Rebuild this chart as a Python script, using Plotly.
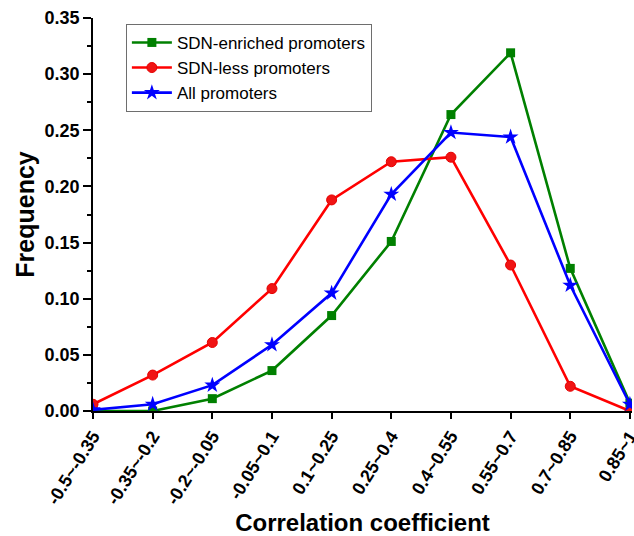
import plotly.graph_objects as go

categories = ["-0.5~-0.35", "-0.35~-0.2", "-0.2~-0.05", "-0.05~0.1", "0.1~0.25",
              "0.25~0.4", "0.4~0.55", "0.55~0.7", "0.7~0.85", "0.85~1"]
sdn_enriched = [0.000, 0.000, 0.011, 0.036, 0.085, 0.151, 0.264, 0.319, 0.127, 0.007]
sdn_less = [0.006, 0.032, 0.061, 0.109, 0.188, 0.222, 0.226, 0.130, 0.022, 0.000]
all_promoters = [0.001, 0.006, 0.023, 0.059, 0.105, 0.193, 0.248, 0.244, 0.112, 0.006]

FONT = "Liberation Sans, Arial, sans-serif"

fig = go.Figure()
fig.add_trace(go.Scatter(x=categories, y=sdn_enriched, name="SDN-enriched promoters",
                         mode="lines+markers",
                         line=dict(color="rgb(0,128,0)", width=2.6),
                         marker=dict(symbol="square", size=9, color="rgb(0,128,0)")))
fig.add_trace(go.Scatter(x=categories, y=sdn_less, name="SDN-less promoters",
                         mode="lines+markers",
                         line=dict(color="rgb(255,0,0)", width=2.6),
                         marker=dict(symbol="circle", size=10, color="rgb(240,20,20)",
                                     line=dict(color="rgb(230,0,0)", width=1))))
fig.add_trace(go.Scatter(x=categories, y=all_promoters, name="All promoters",
                         mode="lines+markers",
                         line=dict(color="rgb(0,0,255)", width=2.6),
                         marker=dict(symbol="star", size=12, color="rgb(0,0,255)")))

fig.update_layout(
    width=634, height=536,
    margin=dict(l=93, r=2, t=18, b=125),
    plot_bgcolor="white", paper_bgcolor="white",
    font=dict(family=FONT, color="black"),
    legend=dict(x=0.061, y=0.985, xanchor="left", yanchor="top",
                bgcolor="white", bordercolor="rgb(110,110,110)", borderwidth=1,
                font=dict(size=17, family=FONT, color="black"),
                tracegroupgap=0, itemwidth=40),
    xaxis=dict(
        type="category", range=[0, 9.035], automargin=False,
        showline=True, linecolor="black", linewidth=1.5,
        ticks="outside", ticklen=6, tickwidth=1.5, tickcolor="black",
        tickangle=-58, showgrid=False, zeroline=False,
        tickfont=dict(size=18, family=FONT, weight="bold", color="black"),
        title=dict(text="Correlation coefficient", standoff=10,
                   font=dict(size=24, family=FONT, weight="bold", color="black")),
    ),
    yaxis=dict(
        range=[0, 0.35], dtick=0.05, tickformat=".2f", automargin=False,
        showline=True, linecolor="black", linewidth=1.5,
        ticks="outside", ticklen=8, tickwidth=1.5, tickcolor="black",
        minor=dict(dtick=0.025, ticks="outside", ticklen=4, tickwidth=1.5, tickcolor="black"),
        showgrid=False, zeroline=False,
        tickfont=dict(size=18, family=FONT, weight="bold", color="black"),
        title=dict(text="Frequency", standoff=3,
                   font=dict(size=25, family=FONT, weight="bold", color="black")),
    ),
)

# remove the browser's default 8px page margin so the figure fills the window exactly
fig.write_html("out.html",
               config={"displayModeBar": False},
               post_script="document.body.style.margin='0';document.body.style.overflow='hidden';")
